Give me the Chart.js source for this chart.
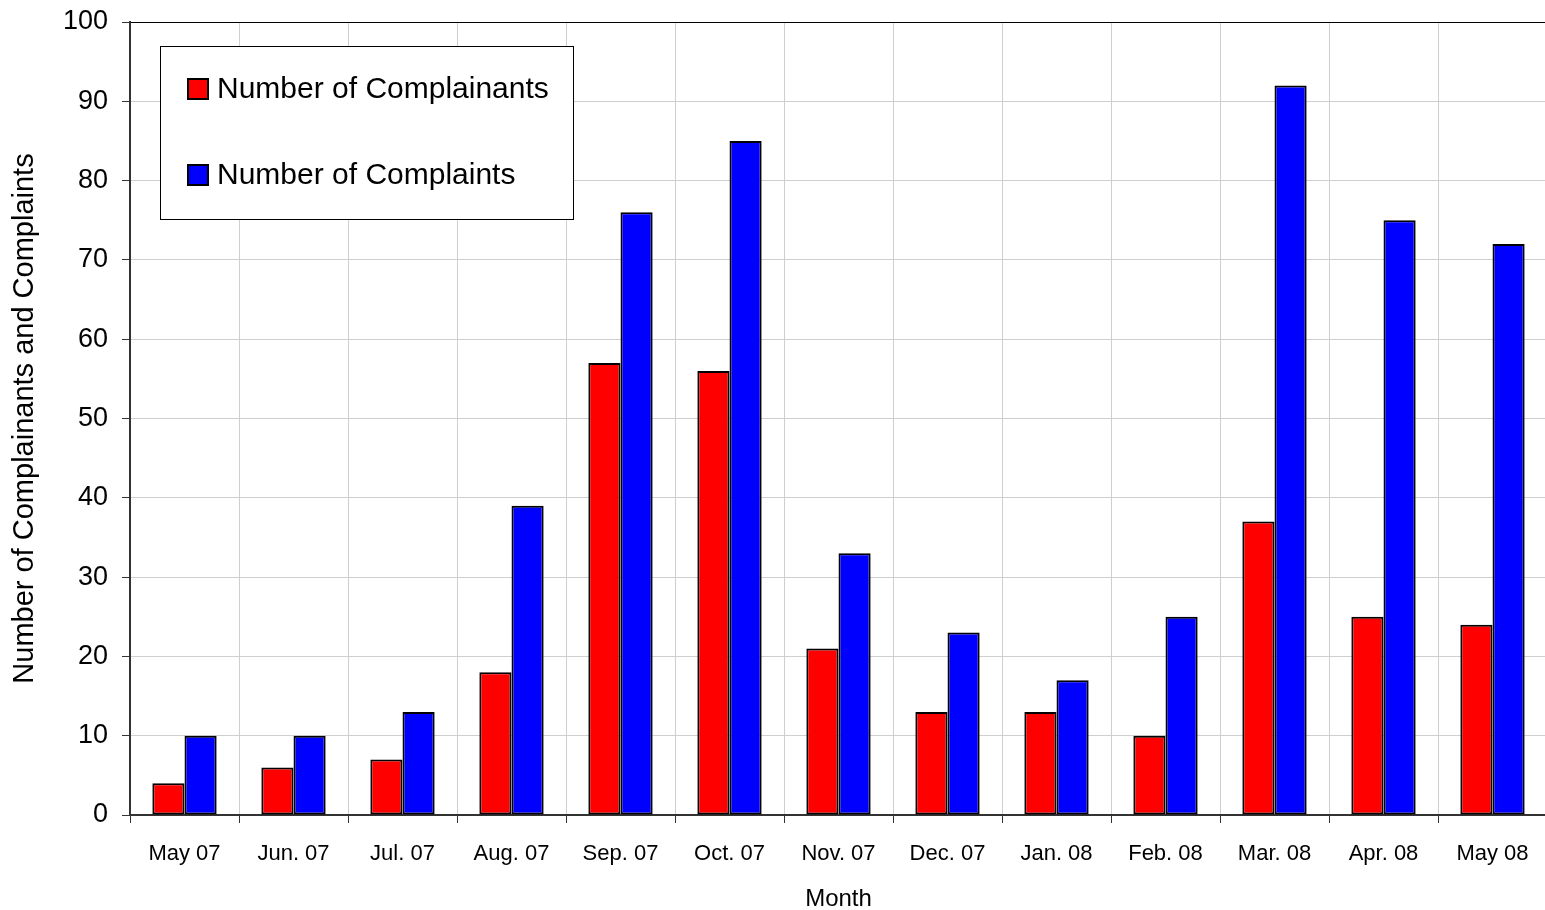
<!DOCTYPE html>
<html>
<head>
<meta charset="utf-8">
<script src="https://cdn.jsdelivr.net/npm/chart.js@4/dist/chart.umd.min.js"></script>
<style>
  html, body { margin: 0; padding: 0; background: #fff; overflow: hidden; }
  #wrap { width: 1547px; height: 910px; position: relative; }
</style>
</head>
<body>
<div id="wrap"><canvas id="chart"></canvas></div>
<script>
// Data
const months = ['May 07', 'Jun. 07', 'Jul. 07', 'Aug. 07', 'Sep. 07', 'Oct. 07', 'Nov. 07',
                'Dec. 07', 'Jan. 08', 'Feb. 08', 'Mar. 08', 'Apr. 08', 'May 08'];
const complainants = [4, 6, 7, 18, 57, 56, 21, 13, 13, 10, 37, 25, 24];
const complaints = [10, 10, 13, 39, 76, 85, 33, 23, 17, 25, 92, 75, 72];
const yTicks = [0, 10, 20, 30, 40, 50, 60, 70, 80, 90, 100];

const FONT = '"Liberation Sans", Arial, sans-serif';

// Boxed legend drawn inside the plot area, top-left
const boxLegend = {
    id: 'boxLegend',
    afterDraw(chart) {
        const { ctx, chartArea } = chart;
        const x = chartArea.left + 30, y = chartArea.top + 24;
        const w = 413, h = 173;
        ctx.save();
        ctx.fillStyle = '#fff';
        ctx.fillRect(x, y, w, h);
        ctx.strokeStyle = '#000';
        ctx.lineWidth = 1;
        ctx.strokeRect(x + 0.5, y + 0.5, w, h);
        ctx.font = '30px ' + FONT;
        ctx.textBaseline = 'middle';
        chart.data.datasets.forEach((ds, i) => {
            const cy = y + 43 + i * 86;
            ctx.fillStyle = ds.backgroundColor;
            ctx.fillRect(x + 28, cy - 10, 20, 20);
            ctx.lineWidth = 2;
            ctx.strokeStyle = '#000';
            ctx.strokeRect(x + 28, cy - 10, 20, 20);
            ctx.fillStyle = '#000';
            ctx.fillText(ds.label, x + 57, cy + 1);
        });
        ctx.restore();
    }
};

new Chart(document.getElementById('chart'), {
    type: 'bar',
    data: {
        labels: months,
        datasets: [
            {
                label: 'Number of Complainants',
                data: complainants,
                backgroundColor: '#ff0000',
                borderColor: '#000',
                borderWidth: 2,
                borderSkipped: false
            },
            {
                label: 'Number of Complaints',
                data: complaints,
                backgroundColor: '#0000ff',
                borderColor: '#000',
                borderWidth: 2,
                borderSkipped: false
            }
        ]
    },
    options: {
        responsive: true,
        maintainAspectRatio: false,
        animation: false,
        layout: { padding: { top: 22, right: 0, left: 0, bottom: 0 } },
        datasets: {
            bar: { barPercentage: 1, categoryPercentage: 0.59 }
        },
        plugins: {
            legend: { display: false },
            tooltip: { enabled: false }
        },
        scales: {
            x: {
                afterFit(scale) { scale.height = 95; },
                grid: {
                    color: '#cfcfcf',
                    tickColor: '#333',
                    tickLength: 8,
                    lineWidth: 1
                },
                border: { color: '#333', width: 2 },
                ticks: {
                    color: '#000',
                    font: { family: FONT, size: 22 },
                    padding: 18,
                    maxRotation: 0,
                    autoSkip: false
                },
                title: {
                    display: true,
                    text: 'Month',
                    color: '#000',
                    font: { family: FONT, size: 24 },
                    padding: { top: 7, bottom: -4 }
                }
            },
            y: {
                min: 0,
                max: 100,
                afterFit(scale) {
                    scale.width = 130;
                    // let the layout padding alone decide where the plot starts
                    scale.paddingTop = 0;
                    scale.paddingBottom = 0;
                },
                afterBuildTicks(scale) { scale.ticks = yTicks.map(v => ({ value: v })); },
                grid: {
                    color: ctx => (ctx.tick && ctx.tick.value === 100 ? '#000' : '#cfcfcf'),
                    tickColor: '#333',
                    tickLength: 8,
                    lineWidth: 1
                },
                border: { color: '#333', width: 2 },
                ticks: {
                    color: '#000',
                    font: { family: FONT, size: 27 },
                    padding: 14
                },
                title: {
                    display: true,
                    text: 'Number of Complainants and Complaints',
                    color: '#000',
                    font: { family: FONT, size: 29 },
                    padding: { top: 8, bottom: 0 }
                }
            }
        }
    },
    plugins: [boxLegend]
});
</script>
</body>
</html>
